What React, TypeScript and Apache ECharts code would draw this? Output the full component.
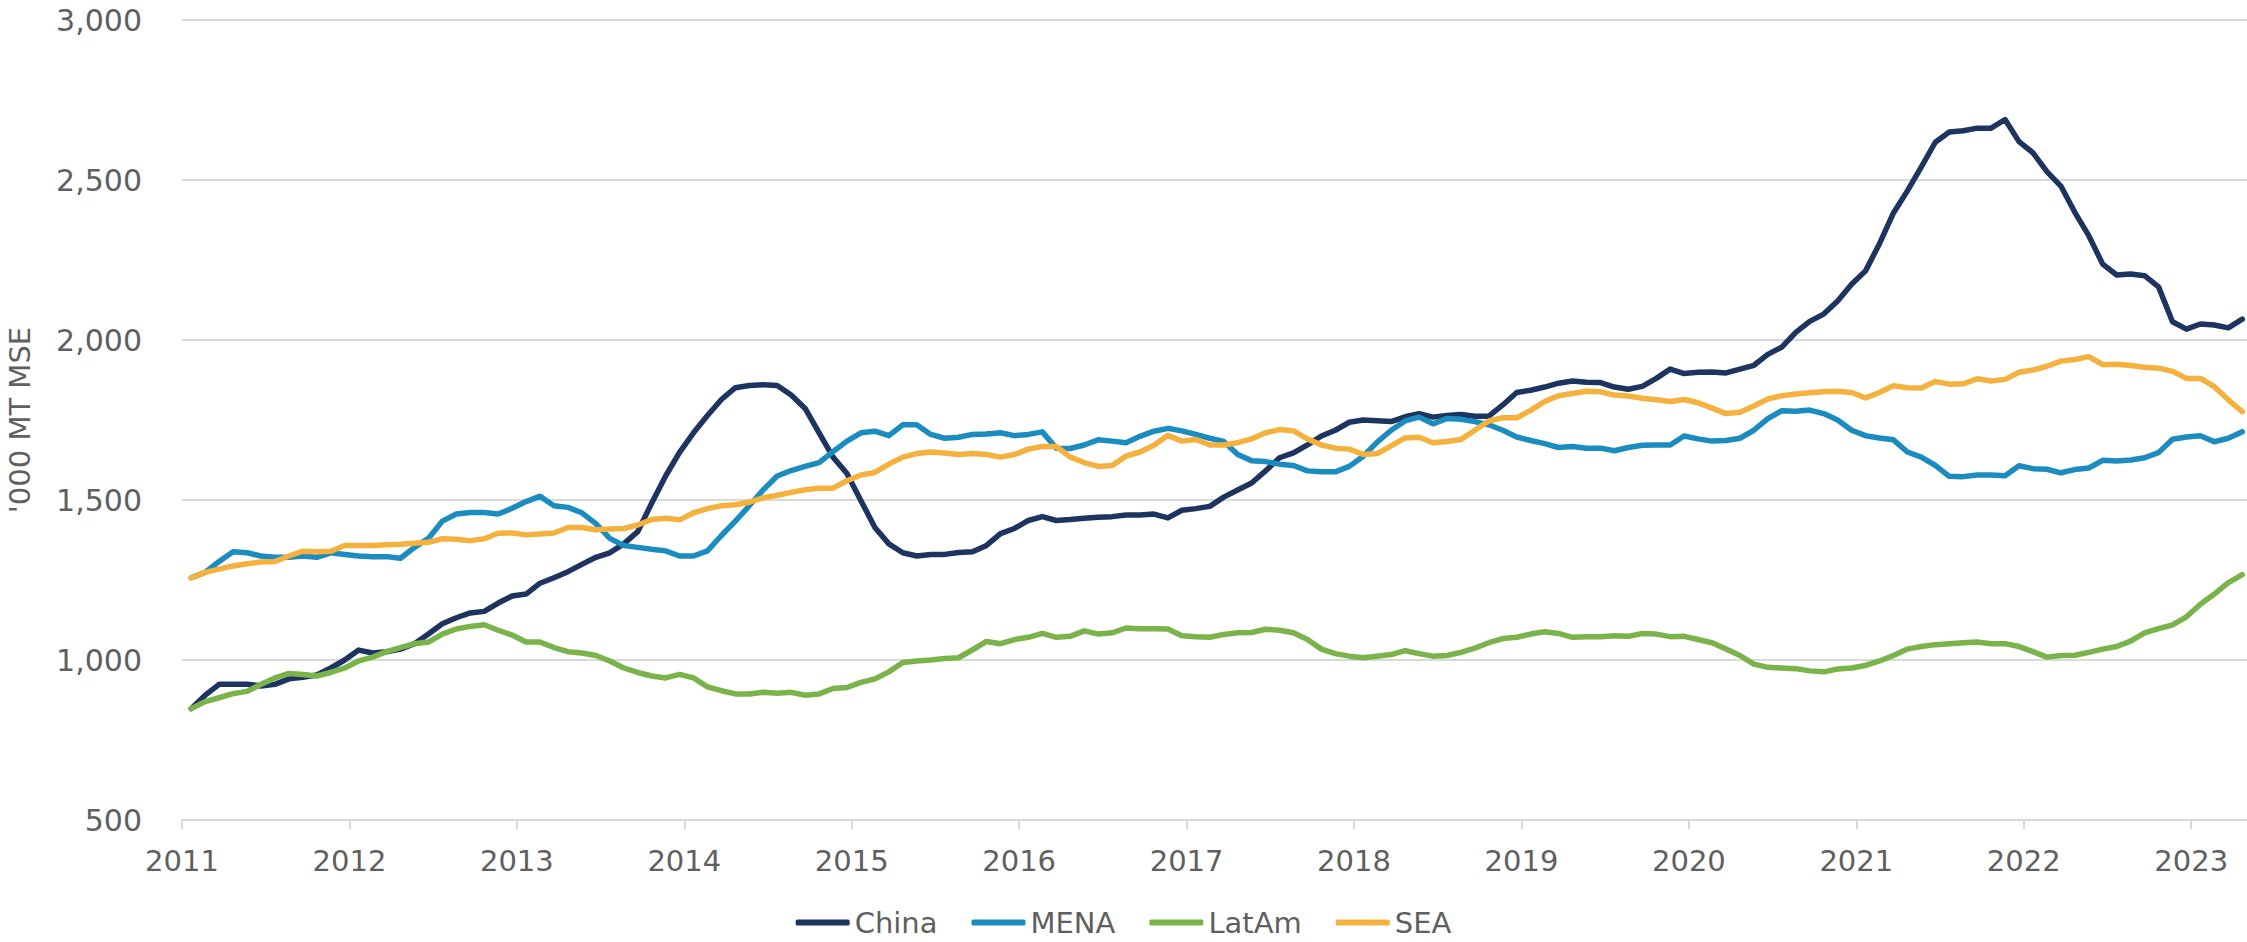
import React, { useEffect, useRef } from "react";
import * as echarts from "echarts";

// Monthly values, Jan 2011 .. Apr 2023 ('000 MT MSE)
const seriesNames = ["China", "MENA", "LatAm", "SEA"];
const seriesColors = ["#1d3461", "#1a8cbf", "#7ab34a", "#f5b13e"];

const china = [
  848, 890, 924, 924, 924, 919, 924, 941, 946, 953, 975, 1000, 1031, 1022, 1026, 1034, 1051, 1081, 1113, 1132, 1147, 1152, 1178, 1200, 1206,
  1240, 1257, 1276, 1299, 1321, 1335, 1363, 1401, 1490, 1575, 1649, 1710, 1764, 1814, 1851, 1858, 1860, 1858, 1828, 1786, 1710, 1634, 1583, 1498,
  1414, 1363, 1335, 1325, 1330, 1330, 1336, 1338, 1358, 1395, 1411, 1436, 1448, 1436, 1439, 1443, 1446, 1448, 1453, 1453, 1456, 1444, 1468,
  1473, 1480, 1509, 1531, 1553, 1591, 1632, 1647, 1672, 1700, 1718, 1743, 1750, 1748, 1745, 1760, 1770, 1759, 1764, 1767, 1762, 1762, 1797, 1836,
  1843, 1853, 1865, 1872, 1868, 1867, 1853, 1846, 1855, 1880, 1909, 1895, 1899, 1900, 1897, 1909, 1921, 1955, 1978, 2024, 2058,
  2081, 2122, 2174, 2216, 2301, 2397, 2466, 2541, 2618, 2650, 2654, 2662, 2662, 2689, 2620, 2585, 2526, 2481, 2399, 2326,
  2237, 2203, 2206, 2201, 2166, 2057, 2034, 2050, 2047, 2038, 2065,
];

const mena = [
  1257, 1274, 1308, 1338, 1335, 1325, 1321, 1321, 1325, 1321, 1335, 1330, 1325, 1323, 1323, 1318, 1352, 1380, 1434, 1456, 1461, 1461, 1456,
  1474, 1495, 1512, 1482, 1477, 1460, 1426, 1380, 1358, 1352, 1346, 1341, 1325, 1325, 1341, 1389, 1434, 1482, 1532, 1575, 1592, 1605, 1617, 1651, 1684, 1710,
  1715, 1701, 1735, 1735, 1705, 1693, 1696, 1705, 1706, 1710, 1701, 1705, 1713, 1662, 1661, 1672, 1688, 1684, 1679, 1699, 1715, 1724, 1716,
  1705, 1693, 1683, 1642, 1623, 1620, 1612, 1608, 1591, 1588, 1588, 1605, 1637, 1681, 1718, 1747, 1759, 1738, 1755, 1752, 1745, 1735, 1718, 1697,
  1686, 1676, 1664, 1667, 1662, 1662, 1654, 1664, 1671, 1672, 1672, 1700, 1691, 1684, 1686, 1693, 1718, 1754, 1779, 1777, 1781,
  1770, 1750, 1718, 1701, 1694, 1688, 1650, 1634, 1608, 1574, 1573, 1578, 1578, 1576, 1607, 1598, 1596, 1585, 1595, 1600,
  1624, 1622, 1625, 1632, 1648, 1690, 1697, 1701, 1682, 1693, 1713,
];

const latam = [
  848, 870, 882, 895, 902, 924, 944, 958, 955, 950, 961, 975, 997, 1009, 1026, 1039, 1051, 1056, 1081, 1097, 1105, 1110, 1093,
  1078, 1056, 1056, 1039, 1026, 1022, 1014, 997, 975, 961, 950, 944, 955, 944, 916, 904, 894, 894, 899, 896, 899, 890, 894, 911, 914, 930,
  941, 963, 992, 997, 1000, 1005, 1007, 1032, 1058, 1051, 1064, 1071, 1083, 1071, 1074, 1091, 1081, 1085, 1100, 1098, 1098, 1097, 1076,
  1073, 1071, 1080, 1085, 1086, 1096, 1093, 1085, 1064, 1034, 1020, 1012, 1007, 1012, 1017, 1029, 1020, 1012, 1014, 1024, 1037, 1054, 1067, 1071,
  1081, 1088, 1083, 1071, 1073, 1073, 1076, 1074, 1083, 1081, 1073, 1074, 1064, 1054, 1034, 1014, 987, 977, 975, 973, 966,
  963, 972, 975, 983, 997, 1014, 1034, 1042, 1048, 1051, 1054, 1056, 1051, 1051, 1042, 1026, 1009, 1014, 1015, 1024,
  1034, 1042, 1059, 1085, 1098, 1110, 1135, 1174, 1206, 1242, 1267,
];

const sea = [
  1257, 1274, 1284, 1294, 1301, 1306, 1308, 1325, 1340, 1338, 1340, 1358, 1358, 1358, 1360, 1362, 1365, 1368, 1379, 1377, 1373, 1379, 1396,
  1397, 1391, 1394, 1397, 1414, 1414, 1407, 1409, 1411, 1422, 1439, 1443, 1438, 1460, 1473, 1482, 1485, 1493, 1507, 1515, 1524, 1532, 1537, 1537, 1560, 1578,
  1586, 1612, 1634, 1645, 1650, 1647, 1642, 1645, 1642, 1634, 1642, 1659, 1667, 1667, 1634, 1617, 1605, 1608, 1637, 1650, 1671, 1702, 1684,
  1689, 1672, 1672, 1679, 1691, 1710, 1720, 1716, 1691, 1672, 1662, 1659, 1642, 1645, 1669, 1694, 1696, 1679, 1683, 1689, 1718, 1747, 1757, 1757,
  1780, 1808, 1826, 1833, 1840, 1838, 1828, 1825, 1818, 1813, 1808, 1814, 1804, 1787, 1770, 1774, 1794, 1816, 1826, 1831, 1835,
  1838, 1840, 1836, 1819, 1836, 1857, 1851, 1850, 1870, 1862, 1863, 1879, 1872, 1877, 1899, 1906, 1918, 1934, 1939, 1948,
  1923, 1924, 1920, 1915, 1912, 1902, 1880, 1880, 1854, 1813, 1776,
];

const seriesValues = [china, mena, latam, sea];

const START_YEAR = 2011;
const MONTH_OFFSET = 0.66; // points sit a little after the start of each month on the date axis
const yTicks = { min: 500, max: 3000, step: 500 };
const yAxisTitle = "'000 MT MSE";

const FONT = "'DejaVu Sans', sans-serif";
const TEXT = "#5f5f5f";

export default function App() {
  const ref = useRef<HTMLDivElement>(null);

  useEffect(() => {
    if (!ref.current) return;
    const chart = echarts.init(ref.current, null, { renderer: "svg" });

    const series = seriesNames.map((name, k) => ({
      name,
      type: "line",
      symbol: "none",
      data: seriesValues[k].map((v, i) => [i + MONTH_OFFSET, v]),
      lineStyle: { color: seriesColors[k], width: 5.5, join: "round", cap: "round" },
      itemStyle: { color: seriesColors[k] },
    }));

    chart.setOption({
      animation: false,
      backgroundColor: "#ffffff",
      textStyle: { fontFamily: FONT },
      grid: { left: 182, right: 0, top: 20, bottom: 122, containLabel: false },
      xAxis: {
        type: "value",
        min: 0,
        max: 148,
        interval: 12,
        axisLine: { show: true, lineStyle: { color: "#d9d9d9", width: 2 } },
        axisTick: { show: true, length: 9, lineStyle: { color: "#d9d9d9", width: 2 } },
        splitLine: { show: false },
        axisLabel: {
          color: TEXT,
          fontSize: 29,
          fontFamily: FONT,
          margin: 26,
          showMaxLabel: false,
          formatter: (v: number) => (Math.abs(v % 12) < 1e-6 ? String(START_YEAR + v / 12) : ""),
        },
      },
      yAxis: {
        type: "value",
        min: yTicks.min,
        max: yTicks.max,
        interval: yTicks.step,
        axisLine: { show: false },
        axisTick: { show: false },
        splitLine: { show: true, lineStyle: { color: "#d9d9d9", width: 2 } },
        axisLabel: {
          color: TEXT,
          fontSize: 30,
          fontFamily: FONT,
          margin: 40,
          formatter: (v: number) => v.toLocaleString("en-US"),
        },
      },
      legend: {
        data: seriesNames,
        left: "center",
        top: 903,
        itemWidth: 54,
        itemHeight: 6,
        itemGap: 34,
        icon: "roundRect",
        textStyle: { color: TEXT, fontSize: 29, fontFamily: FONT },
      },
      graphic: [
        {
          type: "text",
          x: 20,
          y: 420,
          rotation: Math.PI / 2,
          style: {
            text: yAxisTitle,
            fill: TEXT,
            font: `29px ${FONT}`,
            textAlign: "center",
            textVerticalAlign: "middle",
          },
        },
      ],
      series,
    });

    return () => chart.dispose();
  }, []);

  return (
    <div
      ref={ref}
      style={{ position: "fixed", left: 0, top: 0, width: 2247, height: 942 }}
    />
  );
}
